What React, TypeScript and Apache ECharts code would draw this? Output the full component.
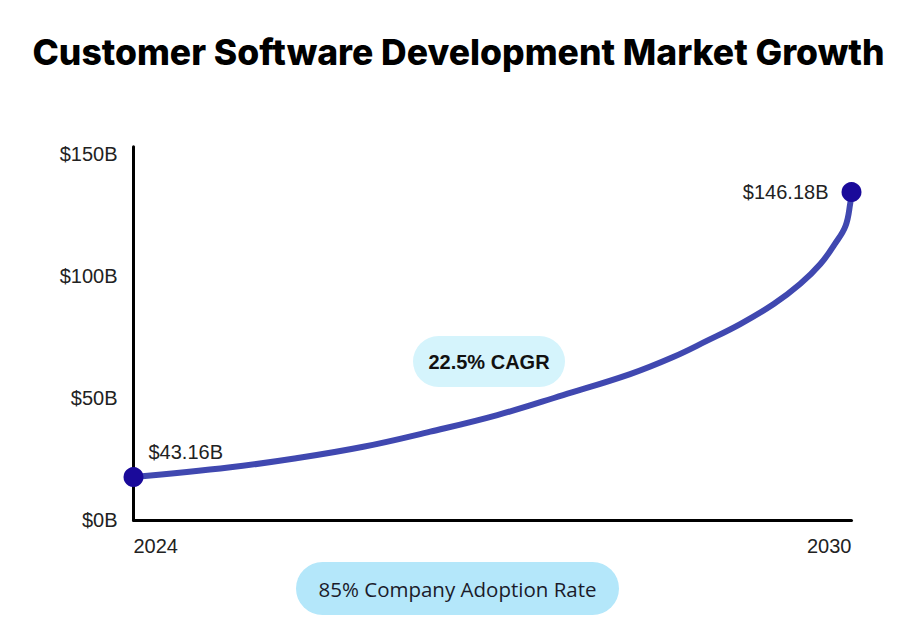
import React, { useEffect, useRef } from "react";
import * as echarts from "echarts";

const title = "Customer Software Development Market Growth";
// curve as drawn (x in years, y in $B as plotted on the axis)
const curveYears = [2024.0, 2024.81, 2025.36, 2025.92, 2026.48, 2027.04, 2027.59, 2028.15, 2028.51, 2028.79, 2029.07, 2029.35, 2029.57, 2029.74, 2029.86, 2029.95, 2029.99, 2030.0];
const curveValues = [17.6, 21.6, 25.3, 30.0, 36.2, 43.0, 51.2, 59.8, 66.8, 73.4, 80.3, 88.5, 96.7, 104.9, 113.1, 120.5, 129.9, 134.4];
const endpointLabels = ["$43.16B", "$146.18B"];
const xTickValues = [2024, 2030];
const yTickValues = [0, 50, 100, 150];
const cagrText = "22.5% CAGR";
const adoptionText = "85% Company Adoption Rate";

export default function App() {
  const ref = useRef<HTMLDivElement>(null);
  useEffect(() => {
    document.body.style.margin = "0";
    const chart = echarts.init(ref.current!, null, { renderer: "svg" });
    const last = curveYears.length - 1;
    const data = curveYears.map((x, i) => {
      if (i === 0) {
        return {
          value: [x, curveValues[i]],
          symbol: "circle",
          symbolSize: 20,
          label: {
            show: true,
            formatter: endpointLabels[0],
            position: "right",
            distance: 5,
            offset: [0, -25],
          },
        };
      }
      if (i === last) {
        return {
          value: [x, curveValues[i]],
          symbol: "circle",
          symbolSize: 20,
          label: {
            show: true,
            formatter: endpointLabels[1],
            position: "left",
            distance: 13,
          },
        };
      }
      return { value: [x, curveValues[i]], symbol: "none" };
    });
    chart.setOption({
      animation: false,
      title: {
        text: title,
        left: "center",
        top: 28,
        textStyle: { fontFamily: "Inter", fontWeight: 800, fontSize: 35.5, lineHeight: 38, color: "#000" },
      },
      grid: { left: 133.5, right: 65.5, top: 146.7, bottom: 121 },
      xAxis: {
        type: "value",
        min: 2024,
        max: 2030,
        axisLine: { show: true, lineStyle: { color: "#000", width: 3 } },
        axisTick: { show: false },
        splitLine: { show: false },
        axisLabel: {
          customValues: xTickValues,
          margin: 16,
          alignMinLabel: "left",
          alignMaxLabel: "right",
          fontFamily: "Liberation Sans",
          fontSize: 20,
          color: "#222",
          formatter: (v: number) => String(v),
        },
      },
      yAxis: {
        type: "value",
        min: 0,
        max: 153,
        axisLine: { show: true, lineStyle: { color: "#000", width: 3 } },
        axisTick: { show: false },
        splitLine: { show: false },
        axisLabel: {
          customValues: yTickValues,
          margin: 16,
          fontFamily: "Liberation Sans",
          fontSize: 20,
          color: "#222",
          formatter: (v: number) => `$${v}B`,
        },
      },
      series: [
        {
          type: "line",
          data,
          smooth: 0.4,
          lineStyle: { color: "#4048B0", width: 6 },
          itemStyle: { color: "#1A0A9A" },
          label: { fontFamily: "Liberation Sans", fontSize: 20, color: "#222" },
          z: 3,
        },
      ],
      graphic: [
        {
          type: "rect",
          shape: { x: 413, y: 336, width: 152, height: 51, r: 25.5 },
          style: { fill: "#D5F4FC" },
          z: 1,
        },
        {
          type: "text",
          x: 489,
          y: 362,
          style: {
            text: cagrText,
            fontFamily: "Liberation Sans",
            fontWeight: "bold",
            fontSize: 20,
            fill: "#111",
            align: "center",
            verticalAlign: "middle",
          },
          z: 2,
        },
        {
          type: "rect",
          shape: { x: 296, y: 562, width: 323, height: 53, r: 26.5 },
          style: { fill: "#B4E7FA" },
          z: 1,
        },
        {
          type: "text",
          x: 457.5,
          y: 589,
          style: {
            text: adoptionText,
            fontFamily: "Open Sans",
            fontSize: 20.5,
            fill: "#1B1B2A",
            align: "center",
            verticalAlign: "middle",
          },
          z: 2,
        },
      ],
    });
    return () => chart.dispose();
  }, []);
  return <div ref={ref} style={{ width: 917, height: 641 }} />;
}
